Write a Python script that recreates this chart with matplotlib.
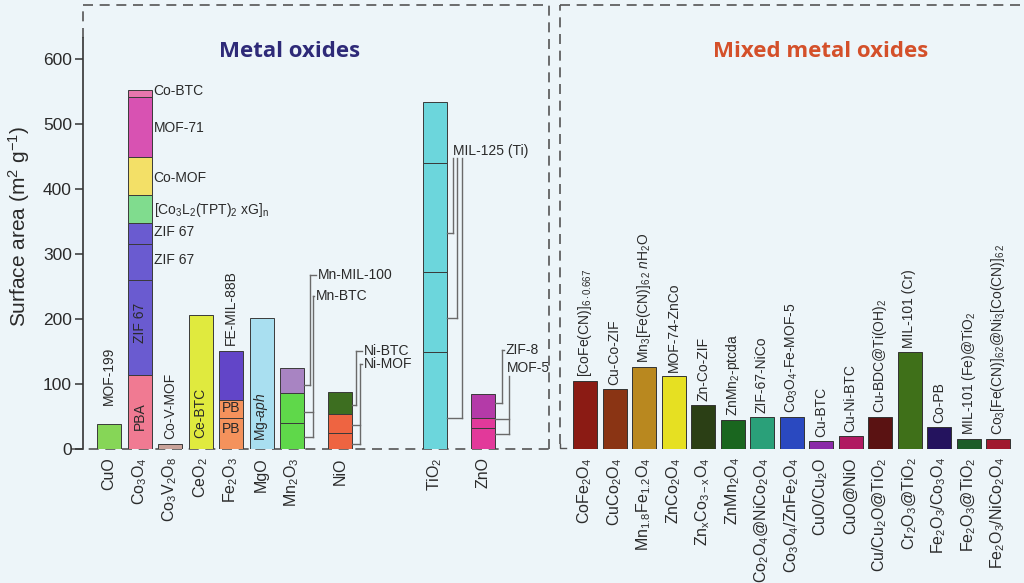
import matplotlib.pyplot as plt

plt.rcParams['font.family'] = ['Liberation Sans', 'DejaVu Sans']
plt.rcParams['mathtext.fontset'] = 'custom'
plt.rcParams['mathtext.rm'] = 'Liberation Sans'
plt.rcParams['mathtext.it'] = 'Liberation Sans:italic'
plt.rcParams['mathtext.default'] = 'regular'

####################################################
### metal oxides (stacked segments, cumulative tops)
####################################################
mo_names = ['CuO', 'Co$_3$O$_4$', 'Co$_3$V$_2$O$_8$', 'CeO$_2$', 'Fe$_2$O$_3$',
            'MgO', 'Mn$_2$O$_3$', 'NiO', 'TiO$_2$', 'ZnO']
mo_tops = [[38],
           [114, 260, 315, 348, 391, 449, 541, 552],
           [8],
           [206],
           [47, 76, 151],
           [202],
           [40, 86, 124],
           [24, 54, 88],
           [149, 272, 440, 534],
           [32, 48, 85]]
mo_colors = [['#86d657'],
             ['#f07a92', '#6a5bd0', '#6a5bd0', '#6a5bd0', '#80dc8e', '#f3e067', '#d852b2', '#e676ad'],
             ['#c9a39a'],
             ['#e0ea3e'],
             ['#f4925c', '#f4925c', '#6245c8'],
             ['#a9dff0'],
             ['#5fd84a', '#5fd84a', '#a884c2'],
             ['#ee6441', '#ee6441', '#3d6e20'],
             ['#6cd6dc', '#6cd6dc', '#6cd6dc', '#6cd6dc'],
             ['#e2399a', '#e2399a', '#b43aa8']]

# labels
co3o4_side = [('Co-BTC', 551), ('MOF-71', 494), ('Co-MOF', 417),
              ('[Co$_3$L$_2$(TPT)$_2$ xG]$_n$', 368), ('ZIF 67', 334), ('ZIF 67', 291)]

####################################################
### mixed metal oxides
####################################################
mmo_names = ['CoFe$_2$O$_4$', 'CuCo$_2$O$_4$', 'Mn$_{1.8}$Fe$_{1.2}$O$_4$', 'ZnCo$_2$O$_4$',
             'Zn$_x$Co$_{3-x}$O$_4$', 'ZnMn$_2$O$_4$', 'Co$_2$O$_4$@NiCo$_2$O$_4$',
             'Co$_3$O$_4$/ZnFe$_2$O$_4$', 'CuO/Cu$_2$O', 'CuO@NiO', 'Cu/Cu$_2$O@TiO$_2$',
             'Cr$_2$O$_3$@TiO$_2$', 'Fe$_2$O$_3$/Co$_3$O$_4$', 'Fe$_2$O$_3$@TiO$_2$',
             'Fe$_2$O$_3$/NiCo$_2$O$_4$']
mmo_values = [105, 92, 126, 112, 68, 45, 49, 49, 12, 20, 49, 149, 34, 15, 15]
mmo_colors = ['#8b1b14', '#8a3414', '#b9881f', '#e6e022', '#2b3f15', '#1a661f', '#2aa079',
              '#2a49c0', '#8a2aa8', '#b01a62', '#5a1212', '#3f7019', '#24135e', '#1d5c29', '#a0192f']
mmo_labels = ['[CoFe(CN)]$_{6\\cdot 0.667}$', 'Cu-Co-ZIF', 'Mn$_3$[Fe(CN)]$_{6\\,2}$ $\\it{n}$H$_2$O',
              'MOF-74-ZnCo', 'Zn-Co-ZIF', 'ZnMn$_2$-ptcda', 'ZIF-67-NiCo', 'Co$_3$O$_4$-Fe-MOF-5',
              'Cu-BTC', 'Cu-Ni-BTC', 'Cu-BDC@Ti(OH)$_2$', 'MIL-101 (Cr)', 'Co-PB',
              'MIL-101 (Fe)@TiO$_2$', 'Co$_3$[Fe(CN)]$_{6\\,2}$@Ni$_3$[Co(CN)]$_{6\\,2}$']

## layout (pixel-like x units)
mo_slot = [0, 1, 2, 3, 4, 5, 6, 7.57, 10.69, 12.26]
mo_x = [109 + 30.5 * s for s in mo_slot]
mmo_x = [585 + 29.5 * i for i in range(len(mmo_values))]
bw = 24
txt = '#2a2a2a'
grey = '#555555'

fig = plt.figure(figsize=(10.24, 5.83), dpi=100, facecolor='#edf5f9')
ax = fig.add_axes([83 / 1024, 134 / 583, 932 / 1024, 444 / 583])
ax.set_facecolor('#edf5f9')
ax.set_xlim(83, 1015)
ax.set_ylim(0, 683)
for s in ax.spines.values():
    s.set_visible(False)

# frame: solid y axis, dashed boxes
ax.plot([83, 83], [0, 632], color='#333333', lw=1.2, clip_on=False, zorder=5)
dash = dict(color=grey, lw=1.2, ls=(0, (6, 4)), clip_on=False, zorder=1)
ax.plot([83, 83], [632, 683], **dash)
ax.plot([83, 549], [683, 683], **dash)
ax.plot([549, 549], [0, 683], **dash)
ax.plot([72, 549], [0, 0], **dash)
ax.plot([560, 1020], [683, 683], **dash)
ax.plot([560, 560], [8, 683], **dash)
ax.plot([560, 560, 566], [8, 1, 1], color=grey, lw=1.0, clip_on=False)

ax.set_yticks(range(0, 601, 100))
ax.tick_params(axis='y', direction='out', length=6, width=1.1, color='#333333',
               labelsize=12.5, labelcolor=txt, pad=2)
ax.set_ylabel('Surface area (m$^2$ g$^{-1}$)', fontsize=15, color=txt, labelpad=8)

# bars
for x, tops, cols in zip(mo_x, mo_tops, mo_colors):
    bottom = 0
    for t, c in zip(tops, cols):
        ax.bar(x, t - bottom, bw, bottom=bottom, color=c, edgecolor='#3a3a3a',
               linewidth=0.7, zorder=3)
        bottom = t

ax.bar(mmo_x, mmo_values, bw, color=mmo_colors, edgecolor='#333333', linewidth=0.7, zorder=3)

ax.set_xticks(mo_x + mmo_x)
ax.set_xticklabels(mo_names + mmo_names, rotation=90, fontsize=11.5, color=txt)
ax.tick_params(axis='x', length=0, pad=6)

# titles
ax.text(290, 612, 'Metal oxides', fontsize=16, fontweight='bold', color='#2e2a78',
        family=['Open Sans', 'DejaVu Sans'], ha='center', va='center')
ax.text(821, 612, 'Mixed metal oxides', fontsize=16, fontweight='bold', color='#d4502a',
        family=['Open Sans', 'DejaVu Sans'], ha='center', va='center')

# labels on metal oxides
lab = dict(fontsize=10, color=txt, zorder=6)
ax.text(mo_x[0], 68, 'MOF-199', rotation=90, ha='center', va='bottom', **lab)
ax.text(mo_x[1], 51, 'PBA', rotation=90, ha='center', va='center', **lab)
ax.text(mo_x[1], 194, 'ZIF 67', rotation=90, ha='center', va='center', **lab)
for t, v in co3o4_side:
    ax.text(mo_x[1] + 14, v, t, ha='left', va='center', **lab)
ax.text(mo_x[2], 15, 'Co-V-MOF', rotation=90, ha='center', va='bottom', **lab)
ax.text(mo_x[3], 55, 'Ce-BTC', rotation=90, ha='center', va='center', **lab)
ax.text(mo_x[4], 160, 'FE-MIL-88B', rotation=90, ha='center', va='bottom', **lab)
ax.text(mo_x[4], 63, 'PB', ha='center', va='center', **lab)
ax.text(mo_x[4], 30, 'PB', ha='center', va='center', **lab)
ax.text(mo_x[5], 50, 'Mg-$\\it{aph}$', rotation=90, ha='center', va='center', **lab)

# bracket annotations: (bar, attach values, vertical x, top value, text, text x, text y)
brackets = [(6, [98], 310, 268, 'Mn-MIL-100', 318, 268),
            (6, [57, 18], 313, 236, 'Mn-BTC', 316, 236),
            (7, [68], 356, 150, 'Ni-BTC', 364, 150),
            (7, [37, 8], 360, 131, 'Ni-MOF', 364, 131),
            (8, [332], 453, 447, '', 0, 0),
            (8, [202], 457, 447, '', 0, 0),
            (8, [48], 462, 447, 'MIL-125 (Ti)', 453, 458),
            (9, [71], 502, 152, 'ZIF-8', 506, 152),
            (9, [46, 23], 509, 112, 'MOF-5', 507, 125)]
lc = dict(color='#6a6a6a', lw=1.0, zorder=4)
for b, att, xv, top, t, tx, ty in brackets:
    xr = mo_x[b] + bw / 2
    for a in att:
        ax.plot([xr, xv], [a, a], **lc)
    ax.plot([xv, xv], [min(att), top], **lc)
    if t and tx > xv + 2:
        ax.plot([xv, tx - 2], [top, top], **lc)
    if t:
        ax.text(tx, ty, t, ha='left', va='center', **lab)

# labels on mixed metal oxides
for x, v, t in zip(mmo_x, mmo_values, mmo_labels):
    ax.text(x, v + 6, t, rotation=90, ha='center', va='bottom', **lab)

fig.savefig('out.png', dpi=100, facecolor=fig.get_facecolor())
